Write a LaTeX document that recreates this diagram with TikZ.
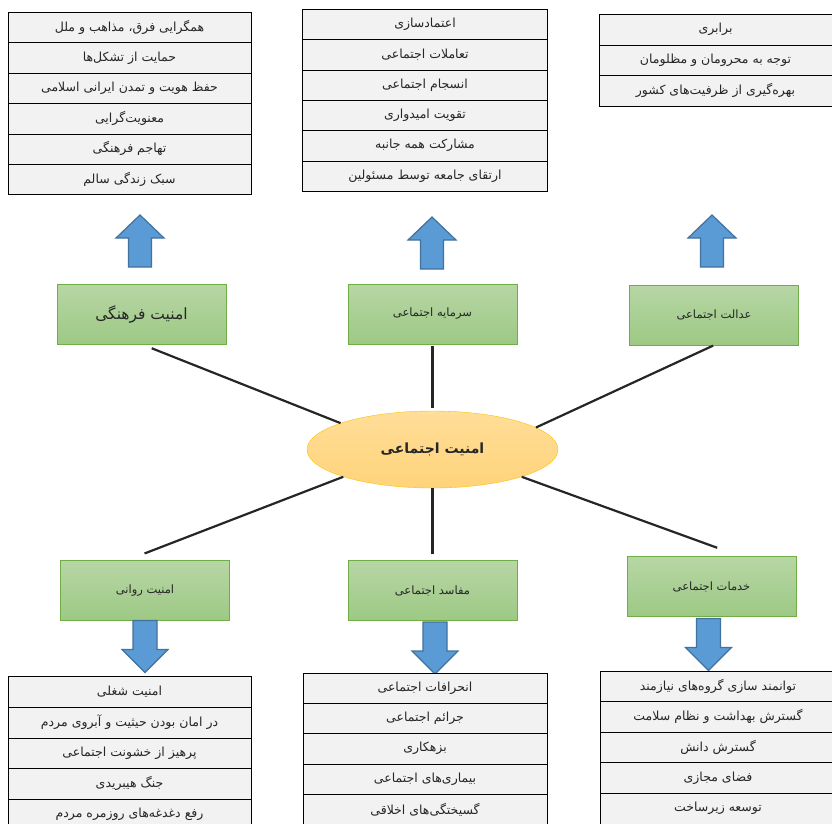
\documentclass[tikz,border=0pt]{standalone}
\usepackage{fontspec}
\usepackage{xcolor}
\usepackage{tikz}
\usetikzlibrary{shapes, positioning}
\TeXXeTstate=1
\newfontfamily\arabicfont[Script=Arabic]{DejaVu Sans}
\newcommand{\fatext}[1]{{\arabicfont\beginR #1\endR}}

\definecolor{verdeArriba}{RGB}{183,214,165}
\definecolor{verdeAbajo}{RGB}{157,201,132}
\definecolor{verdeBorde}{RGB}{112,173,71}
\definecolor{naranjaArriba}{RGB}{255,222,152}
\definecolor{naranjaAbajo}{RGB}{255,211,122}
\definecolor{naranjaBorde}{RGB}{255,192,0}
\definecolor{azulRelleno}{RGB}{91,155,213}
\definecolor{azulBorde}{RGB}{65,113,156}
\definecolor{grisCelda}{RGB}{242,242,242}

\tikzset{
  celda/.style={draw=black, fill=grisCelda, inner sep=0pt, text=black!85, font=\fontsize{12.5}{14}\selectfont},
  pilar/.style={draw=verdeBorde, top color=verdeArriba, bottom color=verdeAbajo, minimum width=169pt, minimum height=60pt, inner sep=0pt, text=black!85, font=\fontsize{11.5}{14}\selectfont},
  centro/.style={ellipse, draw=naranjaBorde, top color=naranjaArriba, bottom color=naranjaAbajo, minimum width=251pt, minimum height=77pt, inner sep=0pt, text=black!85, font=\fontsize{14}{16}\selectfont\bfseries},
  enlace/.style={line width=2.2pt, black!85},
  flecha/.style={draw=azulBorde, fill=azulRelleno, line width=1.2pt}
}

\begin{document}
\begin{tikzpicture}[x=1pt, y=-1pt]

\useasboundingbox (0,0) rectangle (832,823);  % Marco de la figura

% Elipse central
\node[centro] (social) at (432.5,449.5) {\fatext{امنیت اجتماعی}};

% Cajas verdes
\node[pilar, font=\fontsize{15.5}{18}\selectfont] (cult) at (141.5,314) {\fatext{امنیت فرهنگی}};
\node[pilar] (capit) at (432.5,314) {\fatext{سرمایه اجتماعی}};
\node[pilar] (just) at (714,315) {\fatext{عدالت اجتماعی}};
\node[pilar] (psych) at (145,590.5) {\fatext{امنیت روانی}};
\node[pilar] (corr) at (432.5,590.5) {\fatext{مفاسد اجتماعی}};
\node[pilar] (serv) at (711.5,586.5) {\fatext{خدمات اجتماعی}};

% Lineas hacia la elipse
\draw[enlace, shorten <=11pt] (cult.south) -- (social.164);
\draw[enlace, shorten <=2pt, shorten >=3pt] (capit.south) -- (social.north);
\draw[enlace, shorten <=1pt] (just.south) -- (social.12);
\draw[enlace, shorten <=19pt] (psych.121) -- (social.197.5);
\draw[enlace, shorten <=6pt] (corr.north) -- (social.south);
\draw[enlace, shorten <=25pt] (serv.46) -- (social.343);

% Flechas azules hacia arriba
\foreach \cx/\yt in {140/215, 432/217, 712/215}
  \draw[flecha] ({\cx},{\yt}) -- ({\cx+24},{\yt+23}) -- ({\cx+11.5},{\yt+23}) -- ({\cx+11.5},{\yt+52})
    -- ({\cx-11.5},{\yt+52}) -- ({\cx-11.5},{\yt+23}) -- ({\cx-24},{\yt+23}) -- cycle;

% Flechas azules hacia abajo
\foreach \cx/\yt in {145/620.5, 435/622, 708.5/618.5}
  \draw[flecha] ({\cx-12},{\yt}) -- ({\cx+12},{\yt}) -- ({\cx+12},{\yt+29}) -- ({\cx+23},{\yt+29})
    -- ({\cx},{\yt+52}) -- ({\cx-23},{\yt+29}) -- ({\cx-12},{\yt+29}) -- cycle;

% Listas de arriba
\foreach \t [count=\i] in {{همگرایی فرق، مذاهب و ملل}, {حمایت از تشکل^^^^200cها}, {حفظ هویت و تمدن ایرانی اسلامی},
    {معنویت^^^^200cگرایی}, {تهاجم فرهنگی}, {سبک زندگی سالم}}
  \node[celda, minimum width=242.4pt, minimum height=30.35pt] (cul-\i) at (129.5,{12.3+(\i-0.5)*30.35}) {\fatext{\t}};

\foreach \t [count=\i] in {{اعتمادسازی}, {تعاملات اجتماعی}, {انسجام اجتماعی},
    {تقویت امیدواری}, {مشارکت همه جانبه}, {ارتقای جامعه توسط مسئولین}}
  \node[celda, minimum width=245pt, minimum height=30.3pt] (cap-\i) at (425,{9.3+(\i-0.5)*30.3}) {\fatext{\t}};

\foreach \t [count=\i] in {{برابری}, {توجه به محرومان و مظلومان}, {بهره^^^^200cگیری از ظرفیت^^^^200cهای کشور}}
  \node[celda, minimum width=232.4pt, minimum height=30.6pt] (jus-\i) at (715.5,{14.3+(\i-0.5)*30.6}) {\fatext{\t}};

% Listas de abajo
\foreach \t [count=\i] in {{امنیت شغلی}, {در امان بودن حیثیت و آبروی مردم}, {پرهیز از خشونت اجتماعی},
    {جنگ هیبریدی}, {رفع دغدغه^^^^200cهای روزمره مردم}}
  \node[celda, minimum width=242.4pt, minimum height=30.6pt] (psy-\i) at (129.5,{676.5+(\i-0.5)*30.6}) {\fatext{\t}};

\foreach \t [count=\i] in {{انحرافات اجتماعی}, {جرائم اجتماعی}, {بزهکاری},
    {بیماری^^^^200cهای اجتماعی}, {گسیختگی^^^^200cهای اخلاقی}}
  \node[celda, minimum width=244pt, minimum height=30.4pt] (cor-\i) at (425,{672.7+(\i-0.5)*30.4}) {\fatext{\t}};

\foreach \t [count=\i] in {{توانمند سازی گروه^^^^200cهای نیازمند}, {گسترش بهداشت و نظام سلامت}, {گسترش دانش},
    {فضای مجازی}, {توسعه زیرساخت}}
  \node[celda, minimum width=236pt, minimum height=30.6pt] (ser-\i) at (718,{670.7+(\i-0.5)*30.6}) {\fatext{\t}};

\end{tikzpicture}
\end{document}
